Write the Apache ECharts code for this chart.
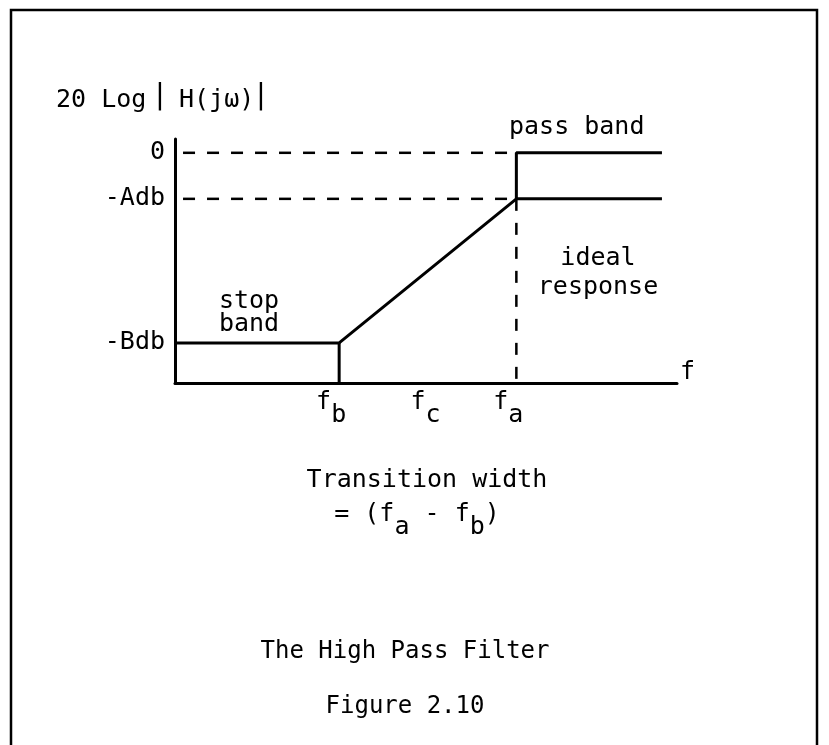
<!DOCTYPE html>
<html>
<head>
<meta charset="utf-8">
<script src="https://cdn.jsdelivr.net/npm/echarts@6/dist/echarts.min.js"></script>
<style>
html,body{margin:0;padding:0;background:#fff;}
#c{width:829px;height:745px;}
</style>
</head>
<body>
<div id="c"></div>
<script>
// ---- data (symbolic units: x = frequency, y = 20 log|H| in dB) ----
const freqTickValues = [3.27, 5.15, 6.8];      // f_b, f_c, f_a
const freqTickSubs   = ['b', 'c', 'a'];
const levelValues    = [0, -10, -41.3];        // 0, -A dB, -B dB
const levelLabels    = ['0', '-Adb', '-Bdb'];

const actualX = [0, 3.27, 6.8, 9.7];
const actualY = [-41.3, -41.3, -10, -10];
const fbDropX = [3.27, 3.27];
const fbDropY = [-41.3, -50];
const idealX  = [6.8, 6.8, 9.7];
const idealY  = [-10, 0, 0];
const zeroRefX = [0.16, 6.8];
const zeroRefY = [0, 0];
const aRefX = [0.16, 6.8];
const aRefY = [-10, -10];
const faRefX = [6.8, 6.8];
const faRefY = [-10, -50];

const zip = (xs, ys) => xs.map((x, i) => [x, ys[i]]);

const FONT = 'DejaVu Sans Mono';
const FS = 25;
const txt = (extra) => Object.assign({fill: '#000', fontFamily: FONT, fontSize: FS}, extra);

const chart = echarts.init(document.getElementById('c'), null, {renderer: 'canvas'});
const solid = {color: '#000', width: 3};
const dashed = {color: '#000', width: 2.5, type: [12, 12]};

chart.setOption({
  animation: false,
  backgroundColor: '#fff',
  grid: {left: 175, right: 152, top: 139, bottom: 362, containLabel: false},
  xAxis: {
    type: 'value', min: 0, max: 10,
    name: 'f', nameLocation: 'end', nameGap: 3,
    nameTextStyle: {color: '#000', fontFamily: FONT, fontSize: FS, verticalAlign: 'bottom', lineHeight: 22},
    axisLine: {onZero: false, lineStyle: {color: '#000', width: 3}},
    axisTick: {show: false},
    splitLine: {show: false},
    axisLabel: {
      customValues: freqTickValues,
      margin: 7,
      padding: [0, 16, 0, 0],
      formatter: (v) => {
        const i = freqTickValues.indexOf(v);
        return '{f|f}{s|' + (i >= 0 ? freqTickSubs[i] : '') + '}';
      },
      rich: {
        f: {fontFamily: FONT, fontSize: FS, color: '#000', lineHeight: 24, verticalAlign: 'top'},
        s: {fontFamily: FONT, fontSize: FS, color: '#000', lineHeight: 24, padding: [13, 0, 0, 0], verticalAlign: 'top'}
      }
    }
  },
  yAxis: {
    type: 'value', min: -50, max: 3,
    axisLine: {onZero: false, lineStyle: {color: '#000', width: 3}},
    axisTick: {show: false},
    splitLine: {show: false},
    axisLabel: {
      customValues: levelValues,
      margin: 10,
      color: '#000', fontFamily: FONT, fontSize: FS,
      formatter: (v) => {
        const i = levelValues.indexOf(v);
        return i >= 0 ? levelLabels[i] : '';
      }
    }
  },
  series: [
    {type: 'line', name: 'actual', data: zip(actualX, actualY), symbol: 'none', lineStyle: solid, clip: false},
    {type: 'line', name: 'fbDrop', data: zip(fbDropX, fbDropY), symbol: 'none', lineStyle: solid, clip: false},
    {type: 'line', name: 'ideal', data: zip(idealX, idealY), symbol: 'none', lineStyle: solid, clip: false},
    {type: 'line', name: 'zeroRef', data: zip(zeroRefX, zeroRefY), symbol: 'none', lineStyle: dashed},
    {type: 'line', name: 'aRef', data: zip(aRefX, aRefY), symbol: 'none', lineStyle: dashed},
    {type: 'line', name: 'faRef', data: zip(faRefX, faRefY), symbol: 'none', lineStyle: dashed}
  ],
  graphic: [
    {type: 'rect', shape: {x: 11, y: 10, width: 806, height: 800}, style: {fill: 'none', stroke: '#000', lineWidth: 2.5}, silent: true},
    {type: 'text', x: 56, y: 100, style: txt({text: '20 Log', verticalAlign: 'middle'})},
    {type: 'text', x: 160, y: 97, style: txt({text: '|', fontSize: 28, align: 'center', verticalAlign: 'middle'})},
    {type: 'text', x: 179, y: 100, style: txt({text: 'H(jω)', verticalAlign: 'middle'})},
    {type: 'text', x: 261, y: 97, style: txt({text: '|', fontSize: 28, align: 'center', verticalAlign: 'middle'})},
    {type: 'text', x: 509, y: 127, style: txt({text: 'pass band', verticalAlign: 'middle'})},
    {type: 'text', x: 249, y: 313, style: txt({text: 'stop\nband', align: 'center', verticalAlign: 'middle', lineHeight: 23})},
    {type: 'text', x: 598, y: 273, style: txt({text: 'ideal\nresponse', align: 'center', verticalAlign: 'middle', lineHeight: 29})},
    {type: 'text', x: 427, y: 480, style: txt({text: 'Transition width', align: 'center', verticalAlign: 'middle'})},
    {type: 'text', x: 417, y: 514, style: {
      text: '{m|= (f}{s|a}{m| - f}{s|b}{m|)}', align: 'center', verticalAlign: 'middle',
      rich: {
        m: {fontFamily: FONT, fontSize: FS, fill: '#000', lineHeight: 24, verticalAlign: 'top'},
        s: {fontFamily: FONT, fontSize: FS, fill: '#000', lineHeight: 24, padding: [13, 0, 0, 0], verticalAlign: 'top'}
      }
    }},
    {type: 'text', x: 405, y: 652, style: txt({text: 'The High Pass Filter', align: 'center', verticalAlign: 'middle', fontSize: 24})},
    {type: 'text', x: 405, y: 707, style: txt({text: 'Figure 2.10', align: 'center', verticalAlign: 'middle', fontSize: 24})}
  ]
});
</script>
</body>
</html>
